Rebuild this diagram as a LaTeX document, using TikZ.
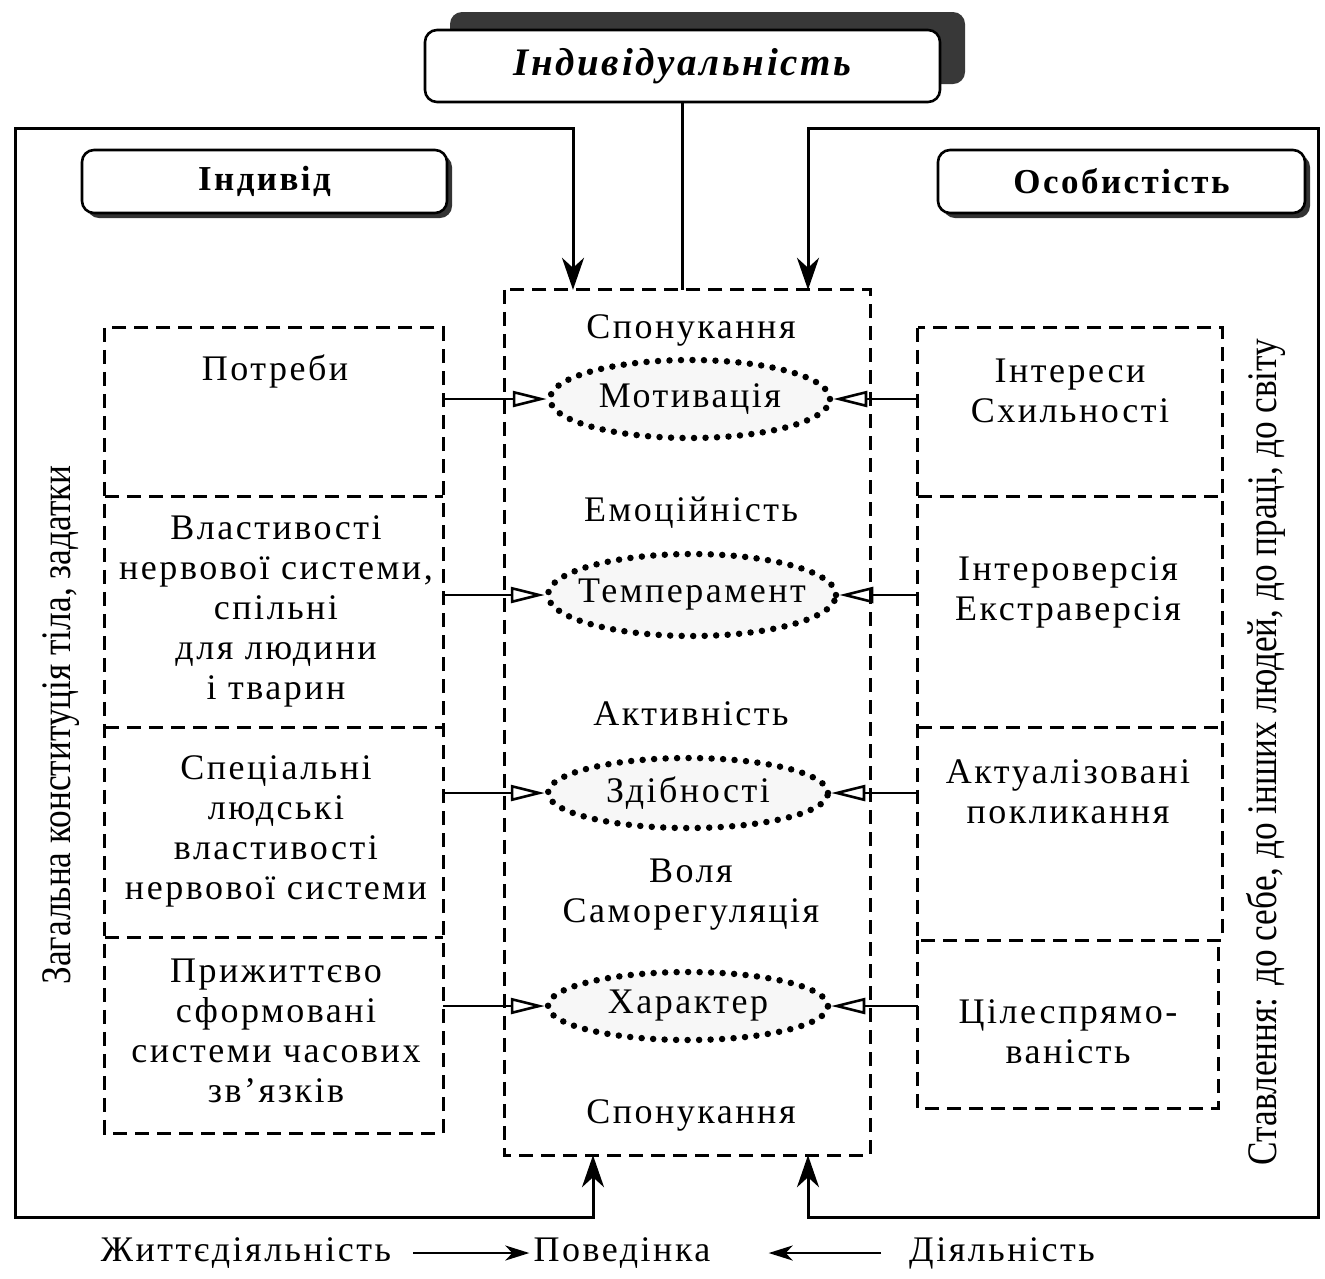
\documentclass[tikz,border=0pt]{standalone}
\usepackage{fontspec}
\setmainfont{Liberation Serif}[LetterSpace=7]
\newfontfamily\narrowfont{Liberation Serif}[FakeStretch=0.84]
\usetikzlibrary{arrows.meta,shapes.geometric,shadows}
\tikzset{
  frame/.style={line width=3pt},
  conn/.style={line width=2.4pt},
  dline/.style={dash pattern=on 14pt off 8pt, line width=3.2pt},
  slot/.style={inner sep=0pt},
  ell/.style={ellipse, draw, line width=6.5pt, dash pattern=on 0pt off 11.5pt, line cap=round, fill=black!3, inner sep=0pt},
  txt/.style={align=center, inner sep=0pt, font=\fontsize{36}{40}\selectfont},
  head/.style={draw, rounded corners=12pt, line width=2.6pt, fill=white, inner sep=0pt},
  bigtips/.style={{Stealth[length=32pt,width=22pt,inset=10pt]}-{Stealth[length=32pt,width=22pt,inset=10pt]}},
  sidetip/.style={-{Triangle[open,length=34pt,width=16pt,line width=2.6pt]}},
}
\begin{document}
\begin{tikzpicture}[x=1pt,y=-1pt]
\useasboundingbox (0,0) rectangle (1325,1278);
\fill[white] (0,0) rectangle (1325,1278);

% header boxes
\node[head, minimum width=515pt, minimum height=72pt,
  drop shadow={shadow xshift=25pt, shadow yshift=18pt, opacity=1, fill=black!78}] (ind) at (682.5,66)
  {\fontsize{39}{44}\selectfont\bfseries\itshape Індивідуальність};
\node[head, minimum width=365pt, minimum height=63pt,
  drop shadow={shadow xshift=5pt, shadow yshift=-5pt, opacity=1, fill=black!80}] (indiv) at (264.5,181.5)
  {\fontsize{35}{40}\selectfont\bfseries Індивід};
\node[head, minimum width=367pt, minimum height=63pt,
  drop shadow={shadow xshift=5pt, shadow yshift=-5pt, opacity=1, fill=black!80}] (osob) at (1121.5,181.5)
  {\fontsize{35}{40}\selectfont\bfseries Особистість};

% central box
\node[slot, minimum width=365pt, minimum height=865pt] (cen) at (687.5,722.5) {};
\draw[dline] (cen.north west) rectangle (cen.south east);

% left column boxes
\node[slot, minimum width=338pt, minimum height=169pt] (pot) at (274,412.5) {};
\node[slot, minimum width=338pt, minimum height=231pt] (vl) at (274,612.5) {};
\node[slot, minimum width=338pt, minimum height=210pt] (sp) at (274,833) {};
\node[slot, minimum width=338pt, minimum height=195pt] (pr) at (274,1035.5) {};
\draw[dline] (pot.north west) rectangle (pr.south east);
\draw[dline] (vl.north west) -- (vl.north east);
\draw[dline] (sp.north west) -- (sp.north east);
\draw[dline] (pr.north west) -- (pr.north east);

% right column boxes
\node[slot, minimum width=304pt, minimum height=169pt] (int) at (1070,412.5) {};
\node[slot, minimum width=304pt, minimum height=231pt] (intr) at (1070,612.5) {};
\node[slot, minimum width=304pt, minimum height=212pt] (akt) at (1070,834) {};
\node[slot, minimum width=300pt, minimum height=168pt] (cil) at (1068,1024) {};
\draw[dline] (int.north west) rectangle (akt.south east);
\draw[dline] (intr.north west) -- (intr.north east);
\draw[dline] (akt.north west) -- (akt.north east);
\draw[dline] (cil.north west) -- (cil.south west) -- (cil.south east) -- (cil.north east);

% texts in boxes
\node[txt] (tpot) at (275,371) {Потреби};
\node[txt] (tvl) at (276,611) {Властивості\\нервової системи,\\спільні\\для людини\\і тварин};
\node[txt] (tsp) at (276,831) {Спеціальні\\людські\\властивості\\нервової системи};
\node[txt] (tpr) at (276,1031) {Прижиттєво\\сформовані\\системи часових\\зв’язків};
\node[txt] (tint) at (1070,391) {Інтереси\\Схильності};
\node[txt] (tintr) at (1068,592) {Інтероверсія\\Екстраверсія};
\node[txt] (takt) at (1068,792) {Актуалізовані\\покликання};
\node[txt] (tcil) at (1068,1032) {Цілеспрямо-\\ваність};

% central texts
\node[txt] (c1) at (691,330) {Спонукання};
\node[txt] (c2) at (691,513) {Емоційність};
\node[txt] (c3) at (691,714) {Активність};
\node[txt] (c4) at (691,895) {Воля\\Саморегуляція};
\node[txt] (c5) at (691,1115) {Спонукання};

% ellipses
\node[ell, minimum width=280pt, minimum height=78pt] (mot) at (690,399) {\fontsize{36}{40}\selectfont Мотивація};
\node[ell, minimum width=288pt, minimum height=82pt, inner xsep=-14pt] (tem) at (692,595) {\fontsize{36}{40}\selectfont Темперамент};
\node[ell, minimum width=280pt, minimum height=70pt] (zd) at (688,793) {\fontsize{36}{40}\selectfont Здібності};
\node[ell, minimum width=280pt, minimum height=68pt] (har) at (688,1006) {\fontsize{36}{40}\selectfont Характер};

% side arrows
\draw[conn, sidetip] (pot.east |- mot.west) -- (mot.west);
\draw[conn, sidetip] (vl.east |- tem.west) -- (tem.west);
\draw[conn, sidetip] (sp.east |- zd.west) -- (zd.west);
\draw[conn, sidetip] (pr.east |- har.west) -- (har.west);
\draw[conn, sidetip] (int.west |- mot.east) -- (mot.east);
\draw[conn, sidetip] (intr.west |- tem.east) -- (tem.east);
\draw[conn, sidetip] (akt.west |- zd.east) -- (zd.east);
\draw[conn, sidetip] (cil.west |- har.east) -- (har.east);

% outer frame with arrows
\coordinate (fTL) at (15,128);
\coordinate (fTR) at (1318,128);
\coordinate (fBL) at (15,1217);
\coordinate (fBR) at (1318,1217);
\coordinate (a1) at (573,128);
\coordinate (a2) at (808,128);
\coordinate (b1) at (593,1217);
\coordinate (b2) at (808,1217);
\draw[frame, bigtips] (cen.north -| a1) -- (a1) -- (fTL) -- (fBL) -- (b1) -- (cen.south -| b1);
\draw[frame, bigtips] (cen.north -| a2) -- (a2) -- (fTR) -- (fBR) -- (b2) -- (cen.south -| b2);
\draw[conn] (ind.south) -- (ind.south |- cen.north);

% rotated side texts
\node[inner sep=0pt, rotate=90, font=\narrowfont\fontsize{42}{48}\selectfont] (lside) at (61,725) {Загальна конституція тіла, задатки};
\node[inner sep=0pt, rotate=90, font=\narrowfont\fontsize{42}{48}\selectfont] (rside) at (1266,752) {Ставлення: до себе, до інших людей, до праці, до світу};

% bottom line
\node[txt] (zh) at (246,1253) {Життєдіяльність};
\node[txt] (pov) at (622,1253) {Поведінка};
\node[txt] (dia) at (1002,1253) {Діяльність};
\draw[conn, -{Stealth[length=24pt,width=15pt,inset=7pt]}] ([xshift=22pt]zh.east) -- ([xshift=-4pt]pov.west);
\draw[conn, -{Stealth[length=24pt,width=15pt,inset=7pt]}] ([xshift=-28pt]dia.west) -- ([xshift=58pt]pov.east);
\end{tikzpicture}
\end{document}
